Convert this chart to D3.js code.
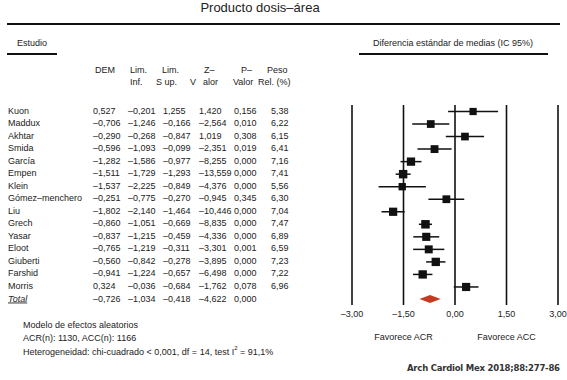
<!DOCTYPE html>
<html>
<head>
<meta charset="utf-8">
<script src="https://cdn.jsdelivr.net/npm/d3@7"></script>
<style>
  html, body { margin: 0; padding: 0; background: #fff; }
  svg { display: block; font-family: "Liberation Sans", Arial, Helvetica, sans-serif; }
  text { fill: #222; }
</style>
</head>
<body>
<svg id="chart" width="567" height="380"></svg>
<script>
// forest plot: dose-area product, standardized mean difference
const studies = ['Kuon', 'Maddux', 'Akhtar', 'Smida', 'García', 'Empen', 'Klein', 'Gómez–menchero',
  'Liu', 'Grech', 'Yasar', 'Eloot', 'Giuberti', 'Farshid', 'Morris'];
// table columns as printed
const dem    = [0.527, -0.706, -0.290, -0.596, -1.282, -1.511, -1.537, -0.251, -1.802, -0.860, -0.837, -0.765, -0.560, -0.941, 0.324];
const limInf = [-0.201, -1.246, -0.268, -1.093, -1.586, -1.729, -2.225, -0.775, -2.140, -1.051, -1.215, -1.219, -0.842, -1.224, -0.036];
const limSup = [1.255, -0.166, -0.847, -0.099, -0.977, -1.293, -0.849, -0.270, -1.464, -0.669, -0.459, -0.311, -0.278, -0.657, -0.684];
const zVal   = [1.420, -2.564, 1.019, -2.351, -8.255, -13.559, -4.376, -0.945, -10.446, -8.835, -4.336, -3.301, -3.895, -6.498, -1.762];
const pVal   = [0.156, 0.010, 0.308, 0.019, 0.000, 0.000, 0.000, 0.345, 0.000, 0.000, 0.000, 0.001, 0.000, 0.000, 0.078];
const peso   = [5.38, 6.22, 6.15, 6.41, 7.16, 7.41, 5.56, 6.30, 7.04, 7.47, 6.89, 6.59, 7.23, 7.22, 6.96];
const total  = [-0.726, -1.034, -0.418, -4.622, 0.000];
// positions as drawn in the plot (a few differ in sign from the table)
const plotEst = [0.527, -0.706, 0.290, -0.596, -1.282, -1.511, -1.537, -0.251, -1.802, -0.860, -0.837, -0.765, -0.560, -0.941, 0.324];
const plotLo  = [-0.201, -1.246, -0.268, -1.093, -1.586, -1.729, -2.225, -0.775, -2.140, -1.051, -1.215, -1.219, -0.842, -1.224, -0.036];
const plotHi  = [1.255, -0.166, 0.847, -0.099, -0.977, -1.293, -0.849, 0.270, -1.464, -0.669, -0.459, -0.311, -0.278, -0.657, 0.684];
const totalPlot = [-0.726, -1.034, -0.418];
const axisTicks = [-3, -1.5, 0, 1.5, 3];

const loc = d3.formatLocale({decimal: ',', thousands: '.', grouping: [3], currency: ['', ''], minus: '–'});
const f3 = loc.format('.3f'), f2 = loc.format('.2f');

const svg = d3.select('#chart');
svg.append('rect').attr('width', 567).attr('height', 380).attr('fill', '#fff');

const x = d3.scaleLinear().domain([-3, 3]).range([352, 558]);
const y = d3.scaleLinear().domain([0, 15]).range([110.5, 298.5]);

// title + rules
svg.append('text').attr('x', 260).attr('y', 12).attr('text-anchor', 'middle')
  .style('font-size', '13px').text('Producto dosis–área');
svg.append('line').attr('x1', 7).attr('x2', 560).attr('y1', 24).attr('y2', 24).attr('stroke', '#111').attr('stroke-width', 2);
svg.append('text').attr('x', 17).attr('y', 46).style('font-size', '9px').text('Estudio');
svg.append('line').attr('x1', 7).attr('x2', 57).attr('y1', 54).attr('y2', 54).attr('stroke', '#111').attr('stroke-width', 2);
svg.append('text').attr('x', 453).attr('y', 46).attr('text-anchor', 'middle').style('font-size', '9px')
  .text('Diferencia estándar de medias (IC 95%)');
svg.append('line').attr('x1', 359).attr('x2', 548).attr('y1', 54).attr('y2', 54).attr('stroke', '#111').attr('stroke-width', 2);

// column headers
const head = [
  ['DEM', 95, 73], ['Lim.', 130, 73], ['Inf.', 130, 85], ['Lim.', 162, 73], ['S  up.', 156, 85], ['V', 190, 85],
  ['Z–', 204, 73], ['alor', 203, 85], ['P–', 241, 73], ['Valor', 233, 85], ['Peso', 267, 73], ['Rel. (%)', 258, 85]
];
svg.selectAll('.hd').data(head).join('text').attr('class', 'hd')
  .attr('x', d => d[1]).attr('y', d => d[2]).style('font-size', '9px').text(d => d[0]);

// table rows
const colX = [93, 128, 163, 199, 234, 271];
const rows = studies.map((s, i) => ({name: s, i, cells: [f3(dem[i]), f3(limInf[i]), f3(limSup[i]), f3(zVal[i]), f3(pVal[i]), f2(peso[i])]}));
const rg = svg.selectAll('.row').data(rows).join('g').attr('class', 'row')
  .attr('transform', d => `translate(0,${y(d.i) + 3})`).style('font-size', '9px');
rg.append('text').attr('x', 8).text(d => d.name);
rg.selectAll('.c').data(d => d.cells).join('text').attr('class', 'c').attr('x', (d, j) => colX[j]).text(d => d);

const tg = svg.append('g').attr('transform', `translate(0,${y(15) + 3})`).style('font-size', '9px');
tg.append('text').attr('x', 8).style('font-style', 'italic').style('text-decoration', 'underline').text('Total');
tg.selectAll('.c').data(total).join('text').attr('class', 'c').attr('x', (d, j) => colX[j]).text(d => f3(d));

// plot frame lines
svg.selectAll('.vl').data(axisTicks).join('line').attr('class', 'vl')
  .attr('x1', d => x(d)).attr('x2', d => x(d)).attr('y1', 105).attr('y2', 305)
  .attr('stroke', '#111').attr('stroke-width', 1.6);
svg.selectAll('.tl').data(axisTicks).join('text').attr('class', 'tl')
  .attr('x', d => x(d)).attr('y', 317).attr('text-anchor', 'middle').style('font-size', '9px')
  .text(d => loc.format('.2f')(d));

// whiskers + squares
const pts = studies.map((s, i) => ({i, est: plotEst[i], lo: plotLo[i], hi: plotHi[i], w: peso[i]}));
svg.selectAll('.wh').data(pts).join('line').attr('class', 'wh')
  .attr('x1', d => x(d.lo)).attr('x2', d => x(d.hi)).attr('y1', d => y(d.i) + 1).attr('y2', d => y(d.i) + 1)
  .attr('stroke', '#111').attr('stroke-width', 1.5);
svg.selectAll('.sq').data(pts).join('rect').attr('class', 'sq')
  .attr('width', d => 4 + d.w * 0.6).attr('height', d => 4 + d.w * 0.6)
  .attr('x', d => x(d.est) - (4 + d.w * 0.6) / 2).attr('y', d => y(d.i) + 1 - (4 + d.w * 0.6) / 2)
  .attr('fill', '#111');

// pooled diamond
const ty = y(15) + 0.5;
svg.append('path')
  .attr('d', `M${x(totalPlot[1])},${ty} L${x(totalPlot[0])},${ty - 4} L${x(totalPlot[2])},${ty} L${x(totalPlot[0])},${ty + 4} Z`)
  .attr('fill', '#c23b22');

// favours labels
svg.append('text').attr('x', x(-1.5)).attr('y', 340).attr('text-anchor', 'middle').style('font-size', '9px').text('Favorece ACR');
svg.append('text').attr('x', x(1.5)).attr('y', 340).attr('text-anchor', 'middle').style('font-size', '9px').text('Favorece ACC');

// footnotes
const notes = svg.append('g').style('font-size', '9px');
notes.append('text').attr('x', 23).attr('y', 328).text('Modelo de efectos aleatorios');
notes.append('text').attr('x', 23).attr('y', 341).text('ACR(n): 1130, ACC(n): 1166');
const het = notes.append('text').attr('x', 23).attr('y', 355);
het.append('tspan').text('Heterogeneidad: chi-cuadrado < 0,001, df = 14, test I');
het.append('tspan').attr('dy', -5).style('font-size', '6px').text('2');
het.append('tspan').attr('dy', 5).text(' = 91,1%');

svg.append('text').attr('x', 560).attr('y', 371).attr('text-anchor', 'end')
  .attr('textLength', 153).attr('lengthAdjust', 'spacing')
  .style('font-family', '"DejaVu Sans", Verdana, sans-serif').style('font-weight', 'bold').style('font-size', '8.5px')
  .style('fill', '#333').text('Arch Cardiol Mex 2018;88:277-86');
</script>
</body>
</html>
